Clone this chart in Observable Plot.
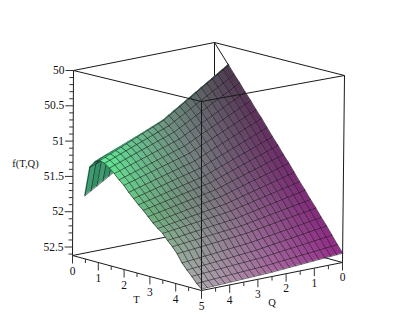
<!DOCTYPE html>
<html><head><meta charset="utf-8">
<script src="https://cdn.jsdelivr.net/npm/d3@7"></script>
<script src="https://cdn.jsdelivr.net/npm/@observablehq/plot@0.6"></script>
<style>html,body{margin:0;padding:0;background:#fff}svg{display:block}</style>
</head><body><div id="c"></div>
<script>
// --- values ---
const tTicks = [0,1,2,3,4,5];
const qTicks = [0,1,2,3,4,5];
const fTicks = [50,50.5,51,51.5,52,52.5];
const fMinorTicks = [50.1,50.2,50.3,50.4,50.6,50.7,50.8,50.9,51.1,51.2,51.3,51.4,51.6,51.7,51.8,51.9,52.1,52.2,52.3,52.4,52.6];
const tMinorTicks = [0.5,1.5,2.5,3.5,4.5];
const qMinorTicks = [0.5,1.5,2.5,3.5,4.5];
const fRange = [50, 52.62];
// surface profiles: three Q sections, 25 points each
const sectionQ = [0, 2.5, 5];
const sectionStartT = [0.54, 0.50, 0.47];
const sectionRidgeT = [0.54, 0.77, 1.04];
const ridgeIndex = 3;
const fAtQ0 = [50.27,50.27,50.27,50.27,50.38,50.48,50.59,50.69,50.80,50.90,51.01,51.12,51.22,51.33,51.43,51.54,51.65,51.75,51.86,51.96,52.07,52.17,52.28,52.39,52.49];
const fAtQ25 = [51.10,50.95,50.87,50.83,50.89,50.96,51.04,51.12,51.20,51.29,51.375,51.46,51.54,51.62,51.70,51.78,51.86,51.945,52.03,52.115,52.22,52.31,52.395,52.485,52.56];
const fAtQ5 = [51.73,51.31,51.22,51.18,51.20,51.25,51.31,51.38,51.44,51.52,51.59,51.66,51.72,51.79,51.86,51.92,51.97,52.05,52.12,52.20,52.31,52.39,52.46,52.54,52.60];
const sections = [fAtQ0, fAtQ25, fAtQ5];
// shading anchors: rows Q = 0, 2.5, 5; columns ridge, middle, T = 5
const shadeQ0 = ["#4b374b","#6e2a6a","#962a8c"];
const shadeQ25 = ["#6f9482","#78707c","#a86aa0"];
const shadeQ5 = ["#5ff09a","#6cb07c","#b0a8b0"];
const shades = [shadeQ0, shadeQ25, shadeQ5];
const backShade = "#2f8a62";

// --- the view: where the box corners fall on the page ---
const view = {
  top:    {t0q5:[73,70],  t5q5:[201,101], t5q0:[344,75],  t0q0:[214,42]},
  bottom: {t0q5:[72,255], t5q5:[201,290], t5q0:[342,262], t0q0:[214,227]}
};
const mix = (a,b,k)=>a+(b-a)*k;
function project(T,Q,f){
  const t=T/5,q=Q/5,h=(f-fRange[0])/(fRange[1]-fRange[0]);
  const at=(c,i)=>mix(mix(c.t0q0[i],c.t5q0[i],t),mix(c.t0q5[i],c.t5q5[i],t),q);
  return [mix(at(view.top,0),at(view.bottom,0),h),mix(at(view.top,1),at(view.bottom,1),h)];
}
const N=24;
function sectionT(i,u){
  return u<=ridgeIndex ? mix(sectionStartT[i],sectionRidgeT[i],u/ridgeIndex)
                       : mix(sectionRidgeT[i],5,(u-ridgeIndex)/(N-ridgeIndex));
}
function surf(u,v){
  const Q=v*5/N, p=Q/2.5, i=Math.min(1,Math.floor(p)), k=p-i;
  return project(mix(sectionT(i,u),sectionT(i+1,u),k),Q,mix(sections[i][u],sections[i+1][u],k));
}
function shade(u,v){
  const p=v/N*2, i=Math.min(1,Math.floor(p)), k=p-i;
  const w=u<=13?(u-3)/10:1+(u-13)/11, j=w<1?0:1, m=w-j;
  const a=d3.interpolateRgb(shades[i][j],shades[i][j+1])(m);
  const b=d3.interpolateRgb(shades[i+1][j],shades[i+1][j+1])(m);
  return d3.interpolateRgb(a,b)(k);
}
function cells(u0,u1){
  const out=[];
  for(let u=u0;u<u1;u++)for(let v=0;v<N;v++){
    const a=surf(u,v),b=surf(u,v+1),c=surf(u+1,v+1),d=surf(u+1,v);
    const fill=u<ridgeIndex?d3.interpolateRgb(backShade,"#56b788")((v%2)*0.3+0.1):shade(u+.5,v+.5);
    const id=u*100+v;
    out.push({x1:a[0],y1:a[1],x2:d[0],y2:d[1],id,fill},{x1:b[0],y1:b[1],x2:c[0],y2:c[1],id,fill});
  }
  return out;
}
function grid(u0,u1){
  const out=[];
  for(let u=u0;u<=u1;u++)for(let v=0;v<=N;v++){const p=surf(u,v);out.push({x:p[0],y:p[1],id:"u"+u});}
  for(let v=0;v<=N;v++)for(let u=u0;u<=u1;u++){const p=surf(u,v);out.push({x:p[0],y:p[1],id:"v"+v});}
  return out;
}
const edge=(a,b)=>({x1:a[0],y1:a[1],x2:b[0],y2:b[1]});
const P=project, F0=fRange[0], F1=fRange[1];
const backEdges=[
  edge(P(0,0,F0),P(0,5,F0)),edge(P(0,0,F0),P(5,0,F0)),edge(P(0,0,F0),P(0,0,F1)),
  edge(P(0,0,F1),P(0,5,F1)),edge(P(0,0,F1),P(5,0,F1)),
  edge(P(0,0,F0),P(sectionRidgeT[0],0,fAtQ0[0]))
];
const frontEdges=[
  edge(P(0,5,F0),P(5,5,F0)),edge(P(5,5,F0),P(5,0,F0)),
  edge(P(0,5,F0),P(0,5,F1)),edge(P(5,5,F0),P(5,5,F1)),edge(P(5,0,F0),P(5,0,F1)),
  edge(P(0,5,F1),P(5,5,F1)),edge(P(5,5,F1),P(5,0,F1))
];
const fTick=(f,len)=>{const p=P(0,5,f);return {x1:p[0],y1:p[1],x2:p[0]-len,y2:p[1]};};
const downTick=(p,len)=>({x1:p[0],y1:p[1],x2:p[0],y2:p[1]+len});
const ticks=[
  ...fTicks.map(f=>fTick(f,8)),...fMinorTicks.map(f=>fTick(f,4)),
  ...tTicks.map(t=>downTick(P(t,5,F1),8)),...tMinorTicks.map(t=>downTick(P(t,5,F1),4)),
  ...qTicks.map(q=>downTick(P(5,q,F1),8)),...qMinorTicks.map(q=>downTick(P(5,q,F1),4))
];
const fontFamily='"Liberation Serif",serif';
const fLabels=fTicks.map(f=>{const p=P(0,5,f);return {x:p[0]-9,y:p[1],t:String(f)};});
const tLabels=tTicks.map(t=>{const p=P(t,5,F1);return {x:p[0],y:p[1]+16,t:String(t)};});
const qLabels=qTicks.filter(q=>q<5).map(q=>{const p=P(5,q,F1);return {x:p[0],y:p[1]+15,t:String(q)};});
const titles=[{x:25,y:163,t:"f(T,Q)"},{x:136,y:299,t:"T"},{x:271.5,y:302,t:"Q"}];

const lineOpts={x1:"x1",y1:"y1",x2:"x2",y2:"y2",stroke:"#1a1a1a",strokeWidth:1};
const areaOpts={x1:"x1",y1:"y1",x2:"x2",y2:"y2",z:"id",fill:"fill",stroke:"fill",strokeWidth:0.5};
const gridOpts={x:"x",y:"y",z:"id",stroke:"#111",strokeOpacity:0.62,strokeWidth:0.9};
const chart=Plot.plot({
  width:415,height:332,margin:0,
  x:{domain:[0,415],range:[0,415],axis:null},
  y:{domain:[0,332],range:[0,332],axis:null},
  color:{type:"identity"},
  style:{background:"#fff"},
  marks:[
    Plot.link(backEdges,lineOpts),
    Plot.area(cells(0,ridgeIndex),areaOpts),
    Plot.line(grid(0,ridgeIndex),gridOpts),
    Plot.area(cells(ridgeIndex,N),areaOpts),
    Plot.line(grid(ridgeIndex,N),gridOpts),
    Plot.link(frontEdges,lineOpts),
    Plot.link(ticks,{...lineOpts,stroke:"#333"}),
    Plot.text(fLabels,{x:"x",y:"y",text:"t",textAnchor:"end",fontSize:11.5,fontFamily,fill:"#111"}),
    Plot.text([...tLabels,...qLabels],{x:"x",y:"y",text:"t",fontSize:11.5,fontFamily,fill:"#111"}),
    Plot.text(titles,{x:"x",y:"y",text:"t",fontSize:10.5,fontFamily,fill:"#111"})
  ]
});
document.getElementById("c").appendChild(chart);
</script></body></html>
